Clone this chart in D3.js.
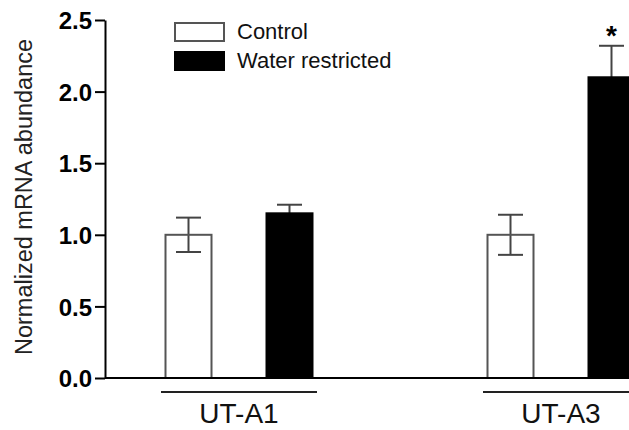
<!DOCTYPE html>
<html>
<head>
<meta charset="utf-8">
<script src="https://cdn.jsdelivr.net/npm/d3@7"></script>
<style>
  body { margin: 0; background: #fff; }
  svg { display: block; font-family: "Liberation Sans", Arial, sans-serif; }
</style>
</head>
<body>
<div id="chart"></div>
<script>
// data
const genes = ["UT-A1", "UT-A3"];
const series = ["Control", "Water restricted"];
const controlMean = [1.00, 1.00];
const controlErr = [0.12, 0.14];
const waterMean = [1.15, 2.10];
const waterErr = [0.06, 0.22];
const significant = [false, true];
const yTicks = [0, 0.5, 1.0, 1.5, 2.0, 2.5];

const width = 629, height = 430;
const axisX = 105, baseY = 378, topY = 20;

const svg = d3.select("#chart").append("svg")
    .attr("width", width)
    .attr("height", height);

const y = d3.scaleLinear().domain([0, 2.5]).range([baseY, topY]);
const x0 = d3.scalePoint().domain(genes).range([239, 561]);
const x1 = d3.scalePoint().domain(series).range([-50.5, 50.5]);
const barW = 46;

// rows for drawing
const bars = [];
genes.forEach((g, i) => {
    bars.push({ gene: g, s: series[0], v: controlMean[i], e: controlErr[i], fill: "#fff" });
    bars.push({ gene: g, s: series[1], v: waterMean[i], e: waterErr[i], fill: "#000", sig: significant[i] });
});

// y axis
const yAxis = svg.append("g")
    .attr("transform", `translate(${axisX},0)`)
    .attr("font-size", null)
    .call(d3.axisLeft(y).tickValues(yTicks).tickFormat(d3.format(".1f")).tickSize(10).tickSizeOuter(0).tickPadding(3));
yAxis.attr("font-size", 24).attr("font-family", "'Liberation Sans', Arial, sans-serif");
yAxis.select(".domain").attr("stroke", "#000").attr("stroke-width", 2);
yAxis.selectAll(".tick line").attr("stroke", "#000").attr("stroke-width", 2);
yAxis.selectAll(".tick text")
    .attr("fill", "#000")
    .attr("dy", "0.36em")
    .attr("font-weight", "bold");

svg.append("text")
    .attr("transform", `translate(32,197) rotate(-90)`)
    .attr("text-anchor", "middle")
    .style("font-size", "23.5px")
    .attr("fill", "#222")
    .text("Normalized mRNA abundance");

// bars
const bar = svg.append("g").selectAll("g")
    .data(bars)
    .enter().append("g")
    .attr("transform", d => `translate(${x0(d.gene) + x1(d.s)},0)`);

// error bars (behind bar for filled ones)
bar.append("line")
    .attr("x1", 0).attr("x2", 0)
    .attr("y1", d => y(d.v + d.e))
    .attr("y2", d => y(d.v - d.e))
    .attr("stroke", "#444")
    .attr("stroke-width", 2);

bar.append("line")
    .attr("x1", -12.5).attr("x2", 12.5)
    .attr("y1", d => y(d.v + d.e))
    .attr("y2", d => y(d.v + d.e))
    .attr("stroke", "#444")
    .attr("stroke-width", 2);

bar.append("rect")
    .attr("x", -barW / 2)
    .attr("width", barW)
    .attr("y", d => y(d.v))
    .attr("height", d => baseY - y(d.v))
    .attr("fill", d => d.fill === "#fff" ? "none" : d.fill)
    .attr("stroke", d => d.fill === "#fff" ? "#555" : "#000")
    .attr("stroke-width", 2);

// lower cap for hollow bars
bar.filter(d => d.fill === "#fff").append("line")
    .attr("x1", -12.5).attr("x2", 12.5)
    .attr("y1", d => y(d.v - d.e))
    .attr("y2", d => y(d.v - d.e))
    .attr("stroke", "#444")
    .attr("stroke-width", 2);

bar.filter(d => d.sig).append("text")
    .attr("y", d => y(d.v + d.e) - 1)
    .attr("text-anchor", "middle")
    .style("font-size", "28px")
    .style("font-weight", "bold")
    .text("*");

// x baseline
svg.append("line")
    .attr("x1", axisX).attr("x2", width)
    .attr("y1", baseY).attr("y2", baseY)
    .attr("stroke", "#000").attr("stroke-width", 2);

// group underlines and labels
const grp = svg.append("g").selectAll("g")
    .data(genes)
    .enter().append("g")
    .attr("transform", d => `translate(${x0(d)},0)`);

grp.append("line")
    .attr("x1", -78).attr("x2", 78)
    .attr("y1", 392).attr("y2", 392)
    .attr("stroke", "#222").attr("stroke-width", 2);

grp.append("text")
    .attr("y", 423)
    .attr("text-anchor", "middle")
    .style("font-size", "28px")
    .attr("fill", "#111")
    .text(d => d);

// legend
const legend = svg.append("g").selectAll("g")
    .data(series)
    .enter().append("g")
    .attr("transform", (d, i) => `translate(175,${23 + i * 29})`);

legend.append("rect")
    .attr("width", 49)
    .attr("height", 18)
    .attr("fill", (d, i) => i === 0 ? "#fff" : "#000")
    .attr("stroke", (d, i) => i === 0 ? "#555" : "#000")
    .attr("stroke-width", 2);

legend.append("text")
    .attr("x", 62)
    .attr("y", 16)
    .style("font-size", "22px")
    .attr("fill", "#111")
    .text(d => d);
</script>
</body>
</html>
